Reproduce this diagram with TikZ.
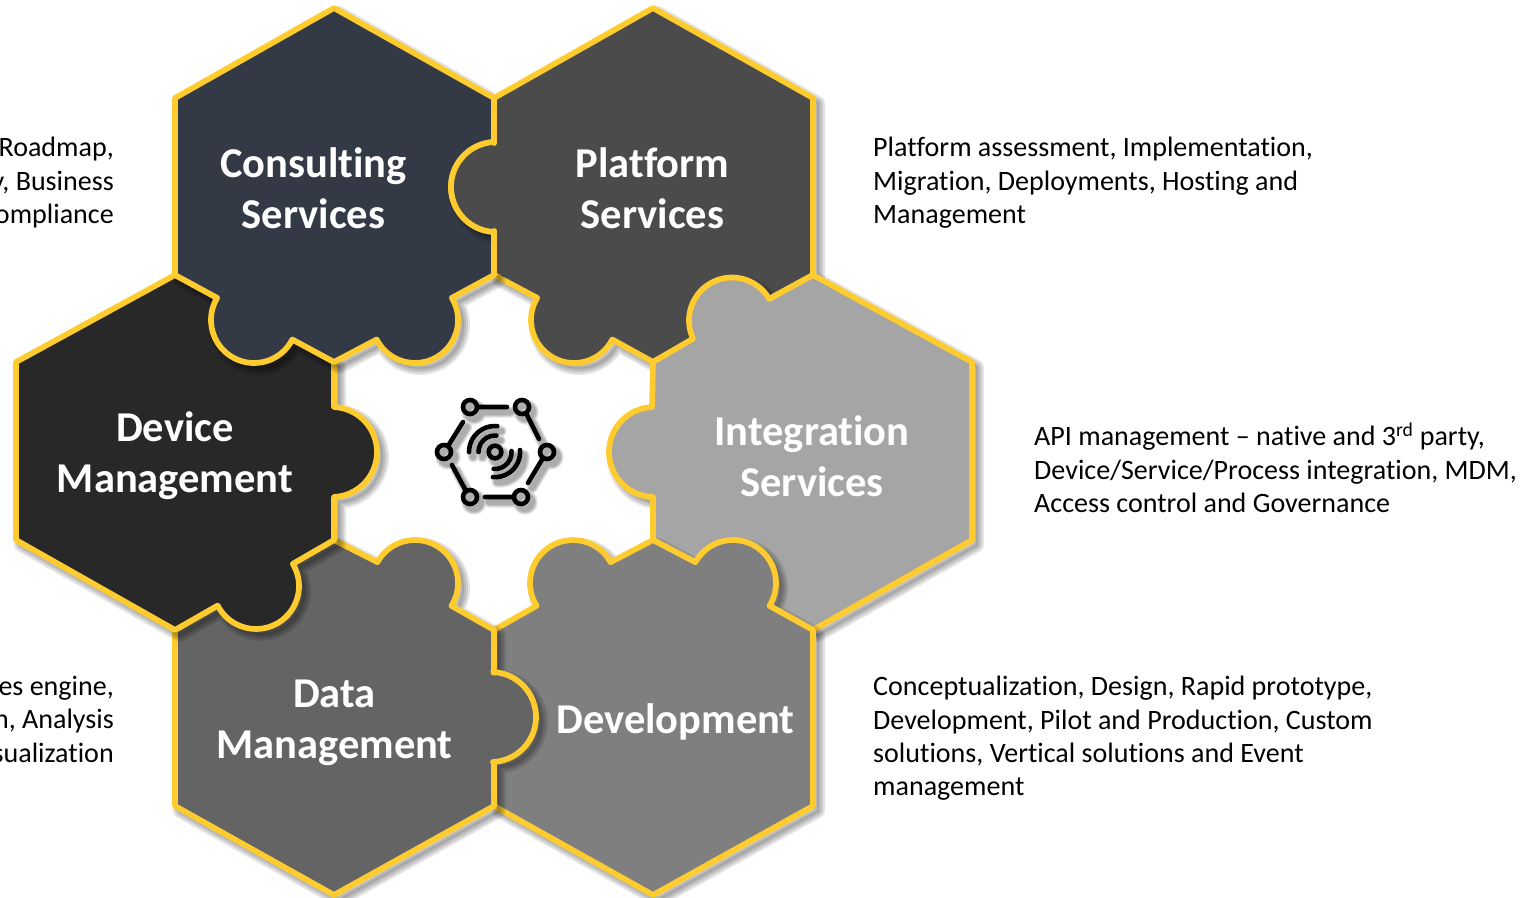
\documentclass[tikz,border=0pt]{standalone}
\usepackage{fontspec}
\setmainfont[Ligatures=NoCommon]{Carlito}
\definecolor{hexline}{HTML}{FFCC2F}
\definecolor{ccons}{HTML}{333A46}
\definecolor{cplat}{HTML}{4B4B4B}
\definecolor{cdev}{HTML}{282828}
\definecolor{cint}{HTML}{A5A5A5}
\definecolor{cdata}{HTML}{646464}
\definecolor{cbuild}{HTML}{7F7F7F}
\newcommand\tb[5]{-- ([shift={(#4:#3)}]#1,#2) arc[start angle=#4,end angle=#5,radius=#3]}
\newcommand\hexCons{(334,8) -- (494,98) -- (494,143) \tb{496}{187}{45}{267.5}{92.5} -- (494,275) \tb{415}{320}{43}{-31}{153} -- (334,362) \tb{254}{320}{43}{27}{211} -- (175,275) -- (175,98) -- cycle}
\newcommand\hexPlat{(653,8) -- (813,98) -- (813,275) -- (653,362) \tb{574}{320}{43}{27}{211} -- (494,275) -- (494,231) \tb{496}{187}{45}{92.5}{267.5} -- (494,98) -- cycle}
\newcommand\hexInt{(813,275) -- (972,362) -- (972,540) -- (813,630) -- (653,540) -- (653,497) \tb{654}{452}{45}{92.5}{267.5} -- (653,362) \tb{732}{320.5}{43}{155}{330} -- cycle}
\newcommand\hexBuild{(653,540) \tb{733}{583}{43}{209}{392} -- (813,630) -- (813,806) -- (653,895) -- (494,806) -- (494,630) \tb{573}{583}{43}{148}{331} -- cycle}
\newcommand\hexData{(334,540) \tb{415}{583}{43}{209}{392} -- (494,630) -- (494,673) \tb{491}{717}{45}{-87.5}{87.5} -- (494,762) -- (494,806) -- (334,895) -- (175,806) -- (175,630) -- cycle}
\newcommand\hexDev{(175,275) -- (334,362) -- (334,407) \tb{332}{452}{45}{-87.5}{87.5} -- (334,497) -- (334,540) \tb{256}{586}{43}{-31}{153} -- (175,630) -- (16,540) -- (16,362) -- cycle}
\newcommand\tabPlat{(494,143) \tb{496}{187}{45}{267.5}{92.5} -- (494,231)}
\newcommand\softshadow[1]{%
  \foreach \w in {14,10,6,2}{\draw[shift={(5,5)},black,opacity=.1,line width=\w pt,line join=round] #1;}}
\newcommand\iconshape{%
  (470,407) circle[radius=7] (522,407) circle[radius=7] (547,452) circle[radius=7]
  (521,497) circle[radius=7] (470,497) circle[radius=7] (444,452) circle[radius=7]
  (495,452) circle[radius=6.3]
  (477,407) -- (507,407) (526,413) -- (539,439) (543,458) -- (528,483)
  (514,497) -- (485,497) (466,491) -- (452,465) (448,446) -- (463,422)
  (478.5,452) arc[start angle=180,end angle=275,radius=16.5]
  (469,452) arc[start angle=180,end angle=275,radius=26]
  (511.5,451) arc[start angle=-5,end angle=95,radius=16.5]
  (520,450) arc[start angle=-5,end angle=95,radius=25]}
\tikzset{
  x=1pt,y=-1pt,
  hexbody/.style={draw=hexline,line width=5.7pt,line join=round},
  title/.style={text=white,font=\fontsize{42.5}{51}\selectfont\bfseries,align=center,inner sep=0pt},
  body/.style={text=black,font=\fontsize{28.05}{33.4}\selectfont,inner sep=0pt},
  bodyl/.style={body,align=left,anchor=north west},
  bodyr/.style={body,align=right,anchor=north east}
}
\begin{document}
\begin{tikzpicture}
\useasboundingbox (0,0) rectangle (1522,897);
% hexagons, bottom to top
\softshadow{\hexPlat}\draw[hexbody,fill=cplat] \hexPlat;
\softshadow{\hexInt}\draw[hexbody,fill=cint] \hexInt;
\softshadow{\hexBuild}\draw[hexbody,fill=cbuild] \hexBuild;
\softshadow{\hexData}\draw[hexbody,fill=cdata] \hexData;
\softshadow{\hexDev}\draw[hexbody,fill=cdev] \hexDev;
\begin{scope}
  \clip (0,0) -- (494,0) -- (494,275) -- (1522,275) -- (1522,897) -- (0,897) -- cycle;
  \softshadow{\hexCons}
\end{scope}
\draw[hexbody,fill=ccons] \hexCons;
% the Platform tab lies on Consulting
\begin{scope}
  \clip (300,98) rectangle (494,275);
  \softshadow{\tabPlat}
\end{scope}
\fill[cplat] \tabPlat -- cycle;
\draw[hexbody] (494,98) -- \tabPlat -- (494,275);
% icon
\foreach \w in {11,8.5,6}{\draw[shift={(4,5)},black,opacity=.12,line width=\w pt,line cap=round] \iconshape;}
\draw[black,line width=4.6pt,line cap=round] \iconshape;
% titles
\node[title] (cons) at (313.5,188) {Consulting\\Services};
\node[title] (plat) at (652.5,188) {Platform\\Services};
\node[title] (dev) at (175,456) {Device\\Management};
\node[title] (int) at (812,456) {Integration\\Services};
\node[title] (data) at (334.5,722.5) {Data\\Management};
\node[title] (build) at (675.5,722) {Development};
% descriptions
\node[bodyr] (tcons) at (114,137) {Roadmap,\\y, Business\\ompliance};
\node[bodyl] (tplat) at (873,137) {Platform assessment, Implementation,\\Migration, Deployments, Hosting and\\Management};
\node[bodyl] (tint) at (1034,423) {API management – native and 3\textsuperscript{rd} party,\\Device/Service/Process integration, MDM,\\Access control and Governance};
\node[bodyr] (tdata) at (114,676) {es engine,\\n, Analysis\\sualization};
\node[bodyl] (tbuild) at (873,676) {Conceptualization, Design, Rapid prototype,\\Development, Pilot and Production, Custom\\solutions, Vertical solutions and Event\\management};
\end{tikzpicture}
\end{document}
